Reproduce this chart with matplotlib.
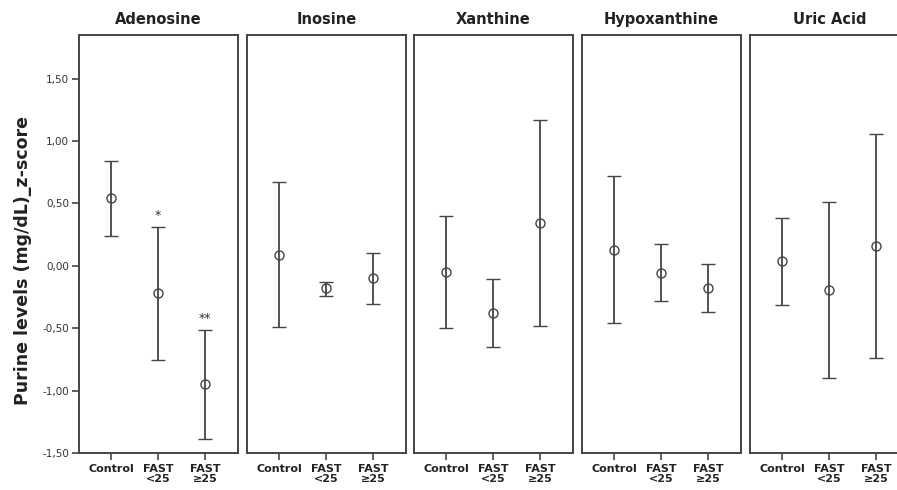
import matplotlib
matplotlib.use("Agg")
import matplotlib.pyplot as plt
import numpy as np

panels = ["Adenosine", "Inosine", "Xanthine", "Hypoxanthine", "Uric Acid"]
groups = ["Control", "FAST\n<25", "FAST\n≥25"]

means = {
    "Adenosine":    [0.54, -0.22, -0.95],
    "Inosine":      [0.09, -0.18, -0.10],
    "Xanthine":     [-0.05, -0.38, 0.34],
    "Hypoxanthine": [0.13, -0.055, -0.175],
    "Uric Acid":    [0.035, -0.195, 0.158],
}
lower = {
    "Adenosine":    [0.243, -0.757, -1.387],
    "Inosine":      [-0.487, -0.238, -0.305],
    "Xanthine":     [-0.50, -0.647, -0.48],
    "Hypoxanthine": [-0.457, -0.283, -0.366],
    "Uric Acid":    [-0.315, -0.896, -0.738],
}
upper = {
    "Adenosine":    [0.842, 0.313, -0.511],
    "Inosine":      [0.674, -0.128, 0.102],
    "Xanthine":     [0.40, -0.107, 1.17],
    "Hypoxanthine": [0.716, 0.171, 0.018],
    "Uric Acid":    [0.385, 0.513, 1.058],
}
sig_marks = {"Adenosine": ["", "*", "**"]}

yticks = [-1.5, -1.0, -0.5, 0.0, 0.5, 1.0, 1.5]
ytick_labels = ["-1,50", "-1,00", "-0,50", "0,00", "0,50", "1,00", "1,50"]

W, H = 897, 490
fig = plt.figure(figsize=(W / 100, H / 100), dpi=100)
col = "#444444"
lefts = [79, 247, 414, 582, 750]
pw = 159
top, bottom = 35, 453

for i, (name, lx) in enumerate(zip(panels, lefts)):
    ax = fig.add_axes([lx / W, (H - bottom) / H, pw / W, (bottom - top) / H])
    x = np.arange(1, 4)
    m = np.array(means[name])
    lo = np.array(lower[name])
    hi = np.array(upper[name])
    ax.errorbar(x, m, yerr=[m - lo, hi - m], fmt="o", mfc="none", mec=col,
                ms=6.5, mew=1.0, ecolor=col, elinewidth=1.3, capsize=5,
                capthick=1.3, color=col)
    if name in sig_marks:
        for xi, h, s in zip(x, hi, sig_marks[name]):
            if s:
                ax.text(xi, h + 0.04, s, ha="center", va="bottom",
                        fontsize=9, color="#333333")
    ax.set_xlim(0.32, 3.7)
    ax.set_ylim(-1.5, 1.85)
    ax.set_xticks(x)
    ax.set_xticklabels(groups, fontweight="bold", fontsize=8,
                       color="#222222", linespacing=0.95)
    ax.tick_params(axis="x", direction="out", length=5, width=1.2,
                   color=col, pad=3)
    if i == 0:
        ax.set_yticks(yticks)
        ax.set_yticklabels(ytick_labels, fontsize=7.5, color="#333333")
        ax.tick_params(axis="y", direction="out", length=5, width=1.2,
                       color=col, pad=2)
        ax.set_ylabel("Purine levels (mg/dL)_z-score", fontweight="bold",
                      fontsize=12.5, color="#222222")
        ax.yaxis.set_label_coords(-0.295, 0.46)
    else:
        ax.set_yticks([])
    for sp in ax.spines.values():
        sp.set_color(col)
        sp.set_linewidth(1.4)
    ax.set_title(name, fontweight="bold", fontsize=10.5, color="#222222",
                 pad=8)

fig.savefig("out.png", dpi=100)
